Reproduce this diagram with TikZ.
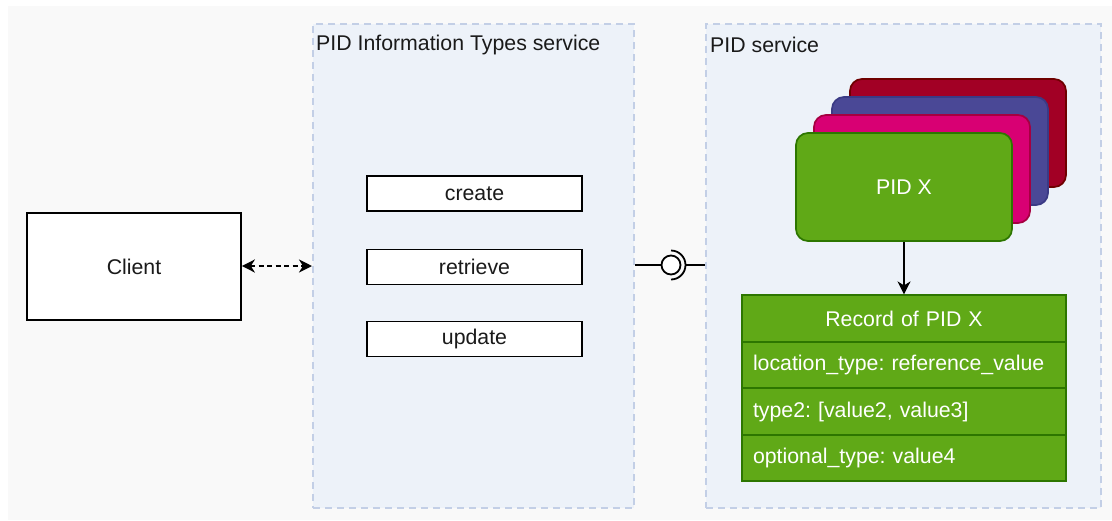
\documentclass[tikz,border=0pt]{standalone}
\usepackage{fontspec}
\setmainfont{Liberation Sans}
\usetikzlibrary{arrows.meta}
\frenchspacing
\definecolor{bgc}{HTML}{F9F9F9}
\definecolor{contfill}{HTML}{EDF2F9}
\definecolor{contdraw}{HTML}{C3CFE6}
\definecolor{grfill}{HTML}{60A917}
\definecolor{grdraw}{HTML}{2D7600}
\definecolor{pkfill}{HTML}{D80073}
\definecolor{pkdraw}{HTML}{A50040}
\definecolor{blfill}{HTML}{4A4896}
\definecolor{bldraw}{HTML}{3A3A85}
\definecolor{rdfill}{HTML}{A20025}
\definecolor{rddraw}{HTML}{6F0000}
\definecolor{txt}{HTML}{1A1A1A}
\tikzset{
  every node/.style={font=\fontsize{21.3}{25}\selectfont, text=txt},
  container/.style={draw=contdraw, fill=contfill, line width=2pt, dash pattern=on 7pt off 5pt, minimum width=#1, minimum height=484pt, inner sep=0pt},
  ctitle/.style={anchor=west, inner sep=0pt},
  opbox/.style={draw=black, fill=white, line width=1.7pt, minimum width=215pt, minimum height=35pt, inner sep=0pt},
  card/.style={draw=#1draw, fill=#1fill, line width=1.7pt, rounded corners=12pt, minimum width=216pt, minimum height=108pt, inner sep=0pt, text=white},
  rowbox/.style={draw=grdraw, fill=grfill, line width=1.7pt, minimum height=46.5pt, text width=302pt, inner xsep=11pt, inner ysep=0pt, align=left, text=white},
  headbox/.style={rowbox, align=center},
  conn/.style={line width=1.8pt, draw=black},
  arrowtip/.tip={Stealth[length=13pt,width=13pt,inset=4pt]},
  tip/.style={-arrowtip}
}
\begin{document}
\begin{tikzpicture}[x=1pt,y=-1pt]
\useasboundingbox (0,0) rectangle (1112,520);
\fill[bgc] (8,6) rectangle (1112,520);
% containers
\node[container=321pt] (pit) at (473.5,266) {};
\node[container=395pt] (ps) at (903.5,266) {};
\node[ctitle] (pitt) at (316,44.5) {PID Information Types service};
\node[ctitle] (pst) at (710,44.5) {PID service};
% client
\node[opbox, minimum width=214pt, minimum height=107pt] (client) at (134,266.5) {Client};
% operations
\node[opbox] (create) at (474.5,193.5) {create};
\node[opbox] (retrieve) at (474.5,267) {retrieve};
\node[opbox] (update) at (474.5,339) {update};
% client arrow
\draw[conn, line width=2.2pt, dash pattern=on 5pt off 3.5pt, arrowtip-arrowtip] (client.east |- 0,266) -- (pit.west |- 0,266);
% lollipop
\coordinate (lol) at (671,265);
\draw[conn] (pit.east |- lol) -- ([xshift=-9.5pt]lol);
\draw[conn, fill=white] (lol) circle[radius=9.5pt];
\draw[conn] ([yshift=14.5pt]lol) arc[start angle=90, end angle=-90, radius=14.5pt];
\draw[conn] ([xshift=14.5pt]lol) -- (ps.west |- lol);
% cards
\node[card=rd] (red) at (958,133) {};
\node[card=bl] (blue) at (940,151) {};
\node[card=pk] (pink) at (922,169) {};
\node[card=gr] (green) at (904,187) {PID X};
% record
\node[headbox] (rhead) at (904,318.5) {Record of PID X};
\node[rowbox] (r1) at (904,365) {location\_type: reference\_value};
\node[rowbox] (r2) at (904,411.5) {type2: [value2, value3]};
\node[rowbox] (r3) at (904,458) {optional\_type: value4};
\draw[conn, tip] (green.south) -- (rhead.north);
\end{tikzpicture}
\end{document}
